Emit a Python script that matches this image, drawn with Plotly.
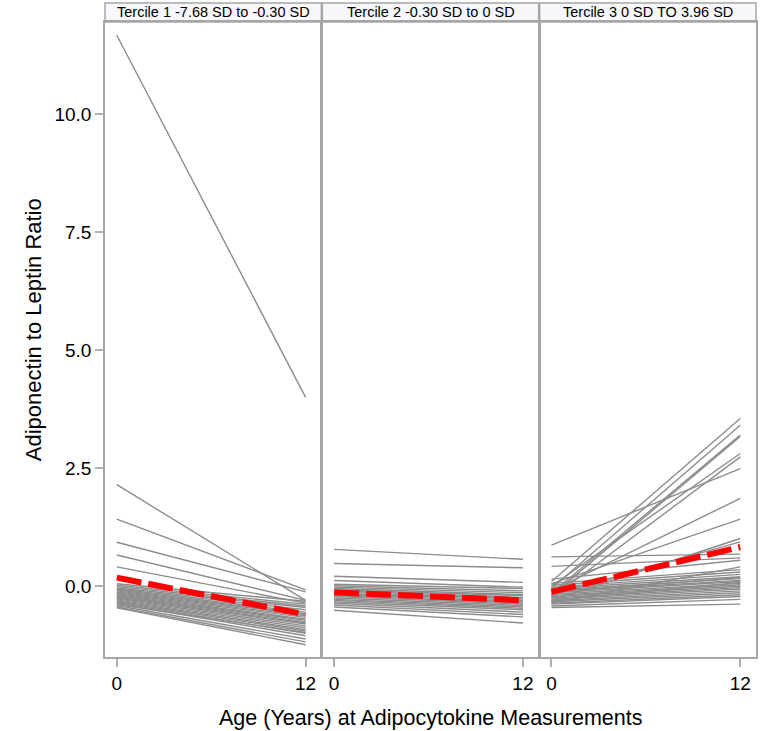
import plotly.graph_objects as go
from plotly.subplots import make_subplots

ages = [0, 12]
panel_titles = ["Tercile 1 -7.68 SD to -0.30 SD", "Tercile 2 -0.30 SD to 0 SD", "Tercile 3 0 SD TO 3.96 SD"]

t1_start = [11.67, 2.15, 1.42, 0.93, 0.66, 0.41,
            0.05, 0.02, -0.01, -0.04, -0.06, -0.08, -0.10, -0.12, -0.14, -0.16, -0.18, -0.20, -0.21,
            -0.23, -0.25, -0.27, -0.29, -0.31, -0.33, -0.35, -0.37, -0.39, -0.41, -0.44, -0.46]
t1_end = [4.00, -0.30, -0.08, -0.12, -0.30, -0.36,
          -0.32, -0.38, -0.42, -0.45, -0.50, -0.55, -0.58, -0.60, -0.63, -0.66, -0.70, -0.72, -0.75,
          -0.78, -0.80, -0.84, -0.88, -0.92, -0.95, -1.00, -1.05, -0.98, -1.12, -1.18, -1.24]

t2_start = [0.78, 0.48, 0.21, 0.12, 0.04, 0.01, -0.02, -0.05, -0.08, -0.10, -0.12, -0.15, -0.17,
            -0.20, -0.22, -0.25, -0.28, -0.30, -0.33, -0.36, -0.40, -0.44, -0.51]
t2_end = [0.57, 0.39, 0.08, -0.02, -0.05, -0.10, -0.14, -0.18, -0.20, -0.24, -0.27, -0.30, -0.33,
          -0.36, -0.38, -0.41, -0.44, -0.47, -0.50, -0.55, -0.60, -0.65, -0.78]

t3_start = [0.87, 0.62, 0.42, 0.10, -0.05, -0.15, -0.20, 0.00, -0.25, -0.10, 0.05, -0.30, -0.18, 0.15, -0.35,
            0.06, 0.02, -0.02, -0.05, -0.08, -0.11, -0.14, -0.17, -0.20, -0.22, -0.25, -0.28, -0.31, -0.33,
            -0.36, -0.38, -0.42, -0.45, -0.30, -0.12]
t3_end = [2.49, 0.68, 0.60, 3.55, 3.41, 3.20, 3.17, 2.81, 2.74, 1.86, 1.42, 1.01, 0.94, 0.55, 0.41,
          0.35, 0.30, 0.25, 0.20, 0.16, 0.12, 0.10, 0.06, 0.03, 0.00, -0.03, -0.06, -0.10, -0.14,
          -0.18, -0.22, -0.28, -0.38, 0.08, 0.18]

mean_start = [0.18, -0.13, -0.12]
mean_end = [-0.60, -0.30, 0.83]

y_ticks = [0.0, 2.5, 5.0, 7.5, 10.0]
x_ticks = [0, 12]

GRAY = "#8c8c8c"
FONT = "Liberation Sans, Arial, sans-serif"

W, H = 762, 731
ml, mr, mt, mb = 105, 4, 22, 74
pw = W - ml - mr
ph = H - mt - mb

# panel pixel extents (relative to plot area left edge)
domains = [[0, 217 / pw], [218 / pw, 435 / pw], [436 / pw, 1.0]]

fig = make_subplots(rows=1, cols=3, shared_yaxes=True, horizontal_spacing=0.003)

panels = [(t1_start, t1_end), (t2_start, t2_end), (t3_start, t3_end)]
for i, (s, e) in enumerate(panels):
    xs, ys = [], []
    for a, b in zip(s, e):
        xs += [ages[0], ages[1], None]
        ys += [a, b, None]
    fig.add_trace(go.Scatter(x=xs, y=ys, mode="lines", line=dict(color=GRAY, width=1.4),
                             showlegend=False, hoverinfo="skip"), row=1, col=i + 1)
    fig.add_trace(go.Scatter(x=ages, y=[mean_start[i], mean_end[i]], mode="lines",
                             line=dict(color="#ff0000", width=6, dash="25px,7px"),
                             showlegend=False), row=1, col=i + 1)

for i in range(3):
    fig.update_xaxes(domain=domains[i], range=[-0.75, 13.0], tickvals=x_ticks,
                     ticktext=[str(v) for v in x_ticks],
                     showgrid=False, zeroline=False, showline=True, mirror=True,
                     linecolor="#a6a6a6", linewidth=1.5, ticks="outside", ticklen=8,
                     tickcolor="#b0b0b0", tickwidth=1.5,
                     tickfont=dict(family=FONT, size=19, color="#000"), row=1, col=i + 1)
    fig.update_yaxes(range=[-1.5, 11.95], tickvals=y_ticks,
                     showgrid=False, zeroline=False, showline=True, mirror=True,
                     linecolor="#a6a6a6", linewidth=1.5,
                     tickfont=dict(family=FONT, size=19, color="#000"), row=1, col=i + 1)

fig.update_yaxes(ticks="outside", ticklen=8, tickcolor="#b0b0b0", tickwidth=1.5,
                 tickformat=".1f", row=1, col=1)

# header strips
for i in range(3):
    d0, d1 = domains[i]
    fig.add_shape(type="rect", xref="paper", yref="paper", x0=d0, x1=d1, y0=1, y1=1 + 19 / ph,
                  line=dict(color="#a6a6a6", width=1.5), fillcolor="#f8f8fc", layer="below")
    fig.add_annotation(text=panel_titles[i], xref="paper", yref="paper", x=(d0 + d1) / 2,
                       y=1 + 9.5 / ph, showarrow=False, yanchor="middle", xanchor="center",
                       font=dict(family=FONT, size=14.5, color="#000"))

fig.add_annotation(text="Age (Years) at Adipocytokine Measurements", xref="paper", yref="paper",
                   x=(431 - ml) / pw, y=-61 / ph, showarrow=False, yanchor="middle", xanchor="center",
                   font=dict(family=FONT, size=21.5, color="#000"))
fig.add_annotation(text="Adiponectin to Leptin Ratio", xref="paper", yref="paper",
                   x=-72 / pw, y=(ph - (330 - mt)) / ph, showarrow=False, textangle=-90,
                   xanchor="center", yanchor="middle",
                   font=dict(family=FONT, size=22, color="#000"))

fig.update_layout(width=W, height=H, margin=dict(l=ml, r=mr, t=mt, b=mb),
                  plot_bgcolor="white", paper_bgcolor="white")

fig.write_html("out.html", config={"displayModeBar": False},
               post_script="document.body.style.margin='0';")
